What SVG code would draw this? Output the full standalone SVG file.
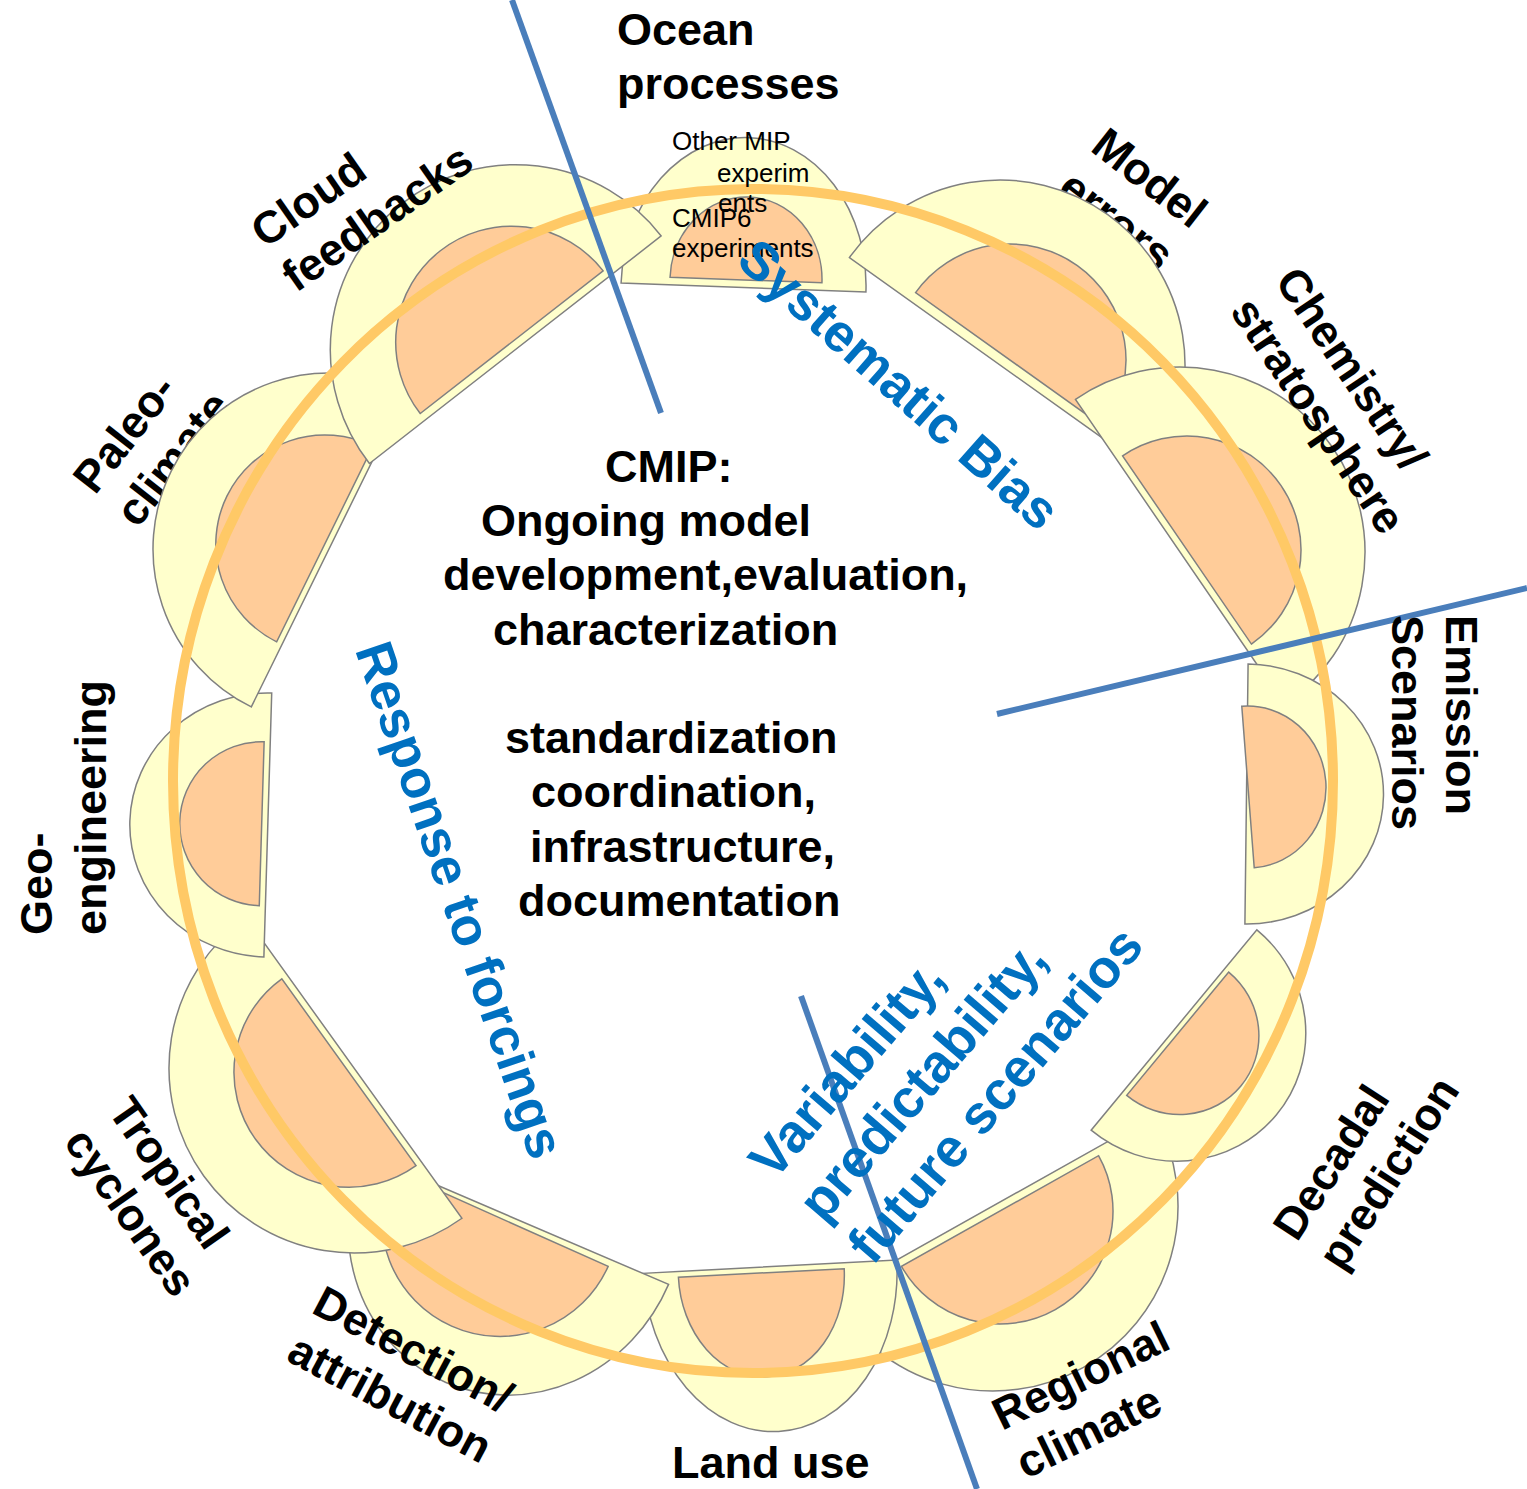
<svg xmlns="http://www.w3.org/2000/svg" width="1527" height="1489" viewBox="0 0 1527 1489">
<style>
.y{fill:#FFFFCC;stroke:#808080;stroke-width:1.5}
.o{fill:#FFCC99;stroke:#808080;stroke-width:1.5}
.lbl{font-family:"Liberation Sans",Arial,sans-serif;font-weight:bold;font-size:45px;fill:#000}
.blue{font-family:"Liberation Sans",Arial,sans-serif;font-weight:bold;font-size:53px;fill:#0070C0}
.small{font-family:"Liberation Sans",Arial,sans-serif;font-size:26px;fill:#000}
.bl{stroke:#4A7EBB;stroke-width:6;fill:none}
</style>
<rect width="1527" height="1489" fill="#fff"/>
<g id="label-model-errors"><text class="lbl" transform="translate(1089,150) rotate(38)"><tspan x="0" y="0">Model</tspan><tspan x="0" y="54">errors</tspan></text></g>
<g id="label-paleo"><text class="lbl" transform="translate(95,496) rotate(-52)"><tspan x="0" y="0">Paleo-</tspan><tspan x="0" y="54">climate</tspan></text></g>
<g id="petal-ocean">
<path class="y" transform="translate(743.5,287.5) rotate(2.1)" d="M-122.5,0 A122.5,150 0 0 1 122.5,0 Z"/>
<path class="o" transform="translate(746,280) rotate(2.1)" d="M-76,0 A76,83 0 0 1 76,0 Z"/>
</g>
<g id="petal-regional">
<path class="y" transform="translate(993,1206) rotate(150.7)" d="M-185,0 A185,185 0 0 1 185,0 Z"/>
<path class="o" transform="translate(1000,1211) rotate(150.7)" d="M-113,0 A113,113 0 0 1 113,0 Z"/>
</g>
<g id="petal-landuse">
<path class="y" transform="translate(770,1266.7) rotate(177)" d="M-127,0 A127,165 0 0 1 127,0 Z"/>
<path class="o" transform="translate(761.3,1273) rotate(177.1)" d="M-83,0 A83,104 0 0 1 83,0 Z"/>
</g>
<g id="petal-detection">
<path class="y" transform="translate(516,1219) rotate(203.2)" d="M-166,0 A166,178 0 0 1 166,0 Z"/>
<path class="o" transform="translate(500,1218) rotate(204.1)" d="M-118.5,0 A118.5,118.5 0 0 1 118.5,0 Z"/>
</g>
<g id="petal-tropical">
<path class="y" transform="translate(354,1068) rotate(234.3)" d="M-185,0 A185,185 0 0 1 185,0 Z"/>
<path class="o" transform="translate(348.9,1072.2) rotate(234.3)" d="M-115,0 A115,115 0 0 1 115,0 Z"/>
</g>
<g id="petal-geo">
<path class="y" transform="translate(267.8,825) rotate(-88.3)" d="M-132,0 A132,138 0 0 1 132,0 Z"/>
<path class="o" transform="translate(261.7,823.7) rotate(-88.3)" d="M-82,0 A82,82 0 0 1 82,0 Z"/>
</g>
<g id="petal-paleo">
<path class="y" transform="translate(329,549) rotate(-63.8)" d="M-176,0 A176,176 0 0 1 176,0 Z"/>
<path class="o" transform="translate(324.8,544) rotate(-63.8)" d="M-109,0 A109,109 0 0 1 109,0 Z"/>
</g>
<g id="petal-cloud">
<path class="y" transform="translate(515.3,349.7) rotate(-37.95)" d="M-185,0 A185,185 0 0 1 185,0 Z"/>
<path class="o" transform="translate(511.7,342.2) rotate(-37.95)" d="M-116,0 A116,116 0 0 1 116,0 Z"/>
</g>
<g id="petal-model">
<path class="y" transform="translate(1000,365) rotate(35.5)" d="M-185,0 A185,185 0 0 1 185,0 Z"/>
<path class="o" transform="translate(1010,360) rotate(35.5)" d="M-116,0 A116,116 0 0 1 116,0 Z"/>
</g>
<g id="petal-chemistry">
<path class="y" transform="translate(1180,552) rotate(55.6)" d="M-185,0 A185,185 0 0 1 185,0 Z"/>
<path class="o" transform="translate(1187,550) rotate(55.6)" d="M-114,0 A114,114 0 0 1 114,0 Z"/>
</g>
<g id="petal-emission">
<path class="y" transform="translate(1246.5,794) rotate(90.7)" d="M-130,0 A130,137 0 0 1 130,0 Z"/>
<path class="o" transform="translate(1248,787) rotate(85.6)" d="M-81,0 A81,78 0 0 1 81,0 Z"/>
</g>
<g id="petal-decadal">
<path class="y" transform="translate(1174,1030) rotate(129.6)" d="M-130,0 A130,133 0 0 1 130,0 Z"/>
<path class="o" transform="translate(1177.7,1033.7) rotate(129.6)" d="M-80,0 A80,82 0 0 1 80,0 Z"/>
</g>
<g id="ring"><ellipse cx="753" cy="781" rx="580" ry="592" fill="none" stroke="#FFC966" stroke-width="10"/></g>
<g id="mip-text" class="small">
<text x="672" y="150">Other MIP</text>
<text x="717" y="182">experim</text>
<text x="718" y="212">ents</text>
<text x="672" y="227">CMIP6</text>
<text x="672" y="257">experiments</text>
</g>
<g id="connectors">
<line class="bl" x1="512" y1="0" x2="661" y2="413"/>
<line class="bl" x1="997" y1="714" x2="1527" y2="588"/>
<line class="bl" x1="801" y1="996" x2="977" y2="1489"/>
</g>
<g id="blue-text">
<text class="blue" transform="translate(887,398) rotate(41.5)" text-anchor="middle">Systematic Bias</text>
<text class="blue" transform="translate(443,906) rotate(71)" text-anchor="middle">Response to forcings</text>
<text class="blue" style="font-size:54px" transform="translate(774,1182) rotate(-49.5)"><tspan x="0" y="0">Variability,</tspan><tspan x="0" y="65">predictability,</tspan><tspan x="0" y="130">future scenarios</tspan></text>
</g>
<g id="labels">
<text class="lbl"><tspan x="617" y="45">Ocean</tspan><tspan x="617" y="99">processes</tspan></text>
<text class="lbl" transform="translate(1274,281) rotate(56)"><tspan x="0" y="0">Chemistry/</tspan><tspan x="0" y="54">stratosphere</tspan></text>
<text class="lbl" transform="translate(1446,615) rotate(90)"><tspan x="0" y="0">Emission</tspan><tspan x="0" y="54">Scenarios</tspan></text>
<text class="lbl" transform="translate(1297,1243) rotate(-57)"><tspan x="0" y="0">Decadal</tspan><tspan x="0" y="54">prediction</tspan></text>
<text class="lbl" transform="translate(1002,1431) rotate(-26)"><tspan x="0" y="0">Regional</tspan><tspan x="0" y="54">climate</tspan></text>
<text class="lbl" x="672" y="1478">Land use</text>
<text class="lbl" transform="translate(310,1312) rotate(28)"><tspan x="0" y="0">Detection/</tspan><tspan x="0" y="54">attribution</tspan></text>
<text class="lbl" transform="translate(107,1111) rotate(55)"><tspan x="0" y="0">Tropical</tspan><tspan x="0" y="54">cyclones</tspan></text>
<text class="lbl" transform="translate(52,935) rotate(-90)"><tspan x="0" y="0">Geo-</tspan><tspan x="0" y="54">engineering</tspan></text>
<text class="lbl" transform="translate(265,249) rotate(-35)"><tspan x="0" y="0">Cloud</tspan><tspan x="0" y="54">feedbacks</tspan></text>
</g>
<g id="center-text" class="lbl">
<text x="605" y="482">CMIP:</text>
<text x="481" y="536">Ongoing model</text>
<text x="443" y="590">development,evaluation,</text>
<text x="493" y="645">characterization</text>
<text x="505" y="753">standardization</text>
<text x="531" y="807">coordination,</text>
<text x="530" y="862">infrastructure,</text>
<text x="518" y="916">documentation</text>
</g>
</svg>
